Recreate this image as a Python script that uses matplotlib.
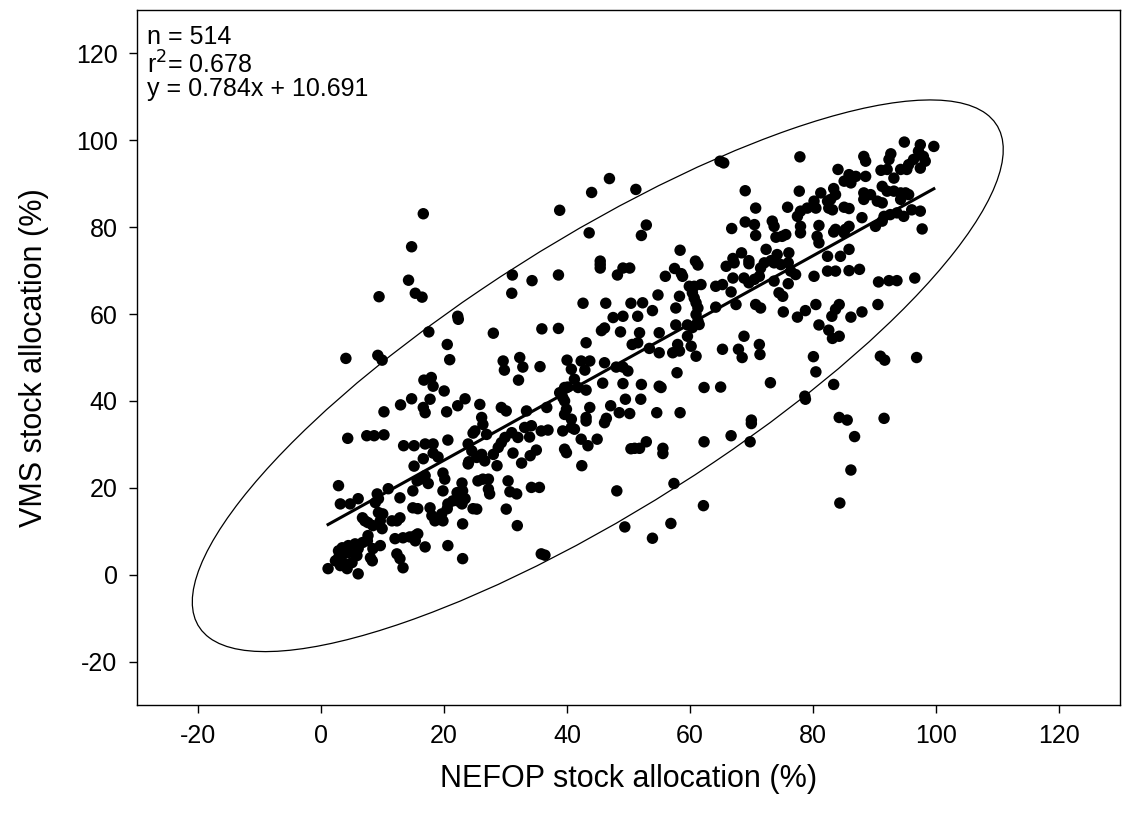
"""
NEFOP vs VMS stock allocation scatter, with fitted line and 95% ellipse.
"""

import numpy as np
import matplotlib
matplotlib.use("Agg")
import matplotlib.pyplot as plt
from matplotlib.patches import Ellipse

plt.rcParams["font.family"] = ["Liberation Sans", "DejaVu Sans"]
plt.rcParams["axes.unicode_minus"] = False

# ── Data (percent) ────────────────────────────────────────────────────────────

nefop = [
    16.6, 14.7,
    38.8, 44.0, 46.9, 51.2, 43.6, 45.4,
    64.9, 65.5, 69.0, 70.7, 75.9, 52.9, 52.1, 66.8, 69.0, 70.5, 70.7, 73.4,
    73.7, 74.0, 75.0, 75.6, 58.4, 60.9, 67.0, 68.4, 69.6, 72.4, 74.2, 76.1, 73.2,
    77.9, 94.9, 97.5, 99.7, 97.2, 98.0, 98.3, 97.5, 96.4, 95.6, 95.3, 94.3,
    92.7, 92.4, 88.3, 88.6, 93.2, 91.1, 92.1, 84.1, 85.9, 87.0, 88.6, 85.1,
    86.2, 77.8, 83.4, 83.7, 82.9, 82.4, 81.3, 80.2, 80.5, 79.1, 78.0, 77.5,
    88.3, 89.4, 88.3, 91.3, 92.1, 93.2, 94.3, 95.1, 95.6, 90.5, 91.3, 94.3,
    82.6, 83.2, 85.1, 85.9, 88.0, 91.6, 92.6, 93.7, 94.8, 96.1, 97.5, 91.3,
    90.2, 97.8, 81.0, 78.0, 78.0, 80.7, 81.0, 83.4, 83.7, 85.9, 85.3, 85.1,
    85.9, 84.5, 82.4,
    80.2, 82.4, 83.7, 85.9, 87.6, 77.2, 90.7, 92.4, 93.7, 96.6, 80.5, 78.8,
    77.5, 84.3, 83.7, 83.1, 86.2, 88.0, 90.6, 81.0, 82.6, 83.2, 84.3, 80.1,
    80.5, 83.4, 78.7, 78.8, 91.0, 91.7, 96.9, 84.3, 85.6, 91.6,
    86.8, 86.2, 84.4,
    52.9, 51.8, 51.0, 55.6, 55.6, 62.3, 66.7, 69.8, 70.0, 57.4, 62.2, 56.9, 53.9,
    48.1, 49.4, 35.8, 36.4, 31.9, 30.1, 25.3, 30.4, 30.7, 31.8, 27.2, 27.4,
    25.5, 26.3, 27.2, 34.2, 35.5, 42.4, 50.4, 31.2, 32.6, 34.0, 35.0, 28.6,
    26.6, 26.1, 25.3, 28.0, 28.8, 29.3, 29.9, 31.0, 32.0, 33.1, 34.2, 33.9,
    35.8, 36.9, 39.3, 40.7, 41.2, 39.6, 39.9, 42.3, 43.4, 44.9, 43.1, 46.1,
    26.3, 26.9, 25.0,
    4.3, 7.4, 8.6, 10.2, 13.4, 15.1, 16.9, 18.2, 20.6, 23.9, 24.7, 18.2, 19.0,
    16.6, 15.1, 19.8, 20.1, 23.9, 15.6, 16.1, 16.9, 2.8, 17.4, 19.8, 22.9,
    23.0, 10.9, 9.1, 12.8, 14.9, 3.1, 4.7, 6.0, 9.3, 8.8, 22.1, 22.2, 21.4,
    20.6, 20.5, 22.9, 23.4, 24.7, 14.9, 15.7, 17.7, 18.0, 19.6, 19.8, 18.5,
    6.7, 7.1, 7.6, 9.3, 10.0, 9.6, 11.5, 12.3, 12.8, 9.9, 8.4, 23.0, 12.0,
    13.3, 14.4, 15.3, 15.7, 15.3, 7.6, 7.5, 6.7, 5.5, 4.4, 3.4, 2.8, 9.6, 8.4,
    16.9, 20.6, 12.3, 12.8, 13.3, 23.0, 8.0, 8.3, 6.0, 1.1, 2.3, 2.8, 3.6,
    4.4, 3.1, 3.9, 4.2, 5.0, 5.8, 6.0, 24.5, 24.0,
    14.2, 9.4, 15.3, 16.4, 22.2, 22.3, 17.5, 20.5, 4.0, 9.2, 9.9, 20.9, 16.7,
    17.9, 18.2, 20.0, 14.7, 17.7, 12.9, 10.2, 16.6, 16.9, 20.4, 22.2, 23.4,
    31.1, 34.3, 38.6, 31.0, 45.4, 45.4, 49.1, 50.2, 48.2, 42.6, 46.3, 50.4,
    47.5, 49.1, 28.0, 35.9, 38.6, 45.6, 46.1, 48.7, 43.1, 50.6, 29.6, 29.8,
    32.3, 32.8, 35.6, 32.1, 40.0, 40.7, 42.3, 43.7, 42.9, 46.1, 48.0, 49.1,
    49.9, 41.2, 39.6, 40.1, 38.8, 39.3, 41.8, 43.1, 45.8, 49.1, 39.6, 39.9,
    39.6, 36.7, 33.4, 29.3, 30.1, 25.8, 43.7, 47.1, 49.5, 48.5, 50.2, 43.1,
    46.4, 40.7, 26.1,
    57.5, 58.6, 58.8, 61.3, 56.0, 65.9, 67.2, 69.6, 71.5, 72.1, 73.7, 74.8,
    76.0, 59.9, 60.7, 61.8, 60.4, 60.7, 64.2, 65.3, 67.0, 66.7, 68.8, 69.6,
    70.5, 71.3, 73.7, 76.0, 76.4, 54.8, 58.3, 57.7, 52.3, 53.9, 51.5, 61.0,
    61.3, 61.0, 61.3, 64.2, 67.5, 70.7, 71.5, 74.5, 75.1, 75.2, 57.7, 59.6,
    60.4, 61.5, 59.6, 51.8, 55.0, 51.5, 53.4, 55.0, 57.2, 58.3, 58.0, 60.2,
    61.0, 65.3, 67.9, 68.5, 68.8, 71.3, 71.4, 57.9, 52.1, 55.0, 55.3, 62.3,
    65.0, 73.1, 52.0, 54.6, 58.4, 70.0,
]

vms = [
    83.1, 75.5,
    83.9, 88.0, 91.2, 88.7, 78.7, 72.2,
    95.2, 94.8, 88.4, 84.4, 84.6, 80.5, 78.1, 79.7, 81.2, 80.6, 78.1, 81.4,
    80.2, 77.7, 77.9, 78.3, 74.7, 72.2, 72.8, 74.1, 72.3, 74.9, 73.7, 74.1, 72.3,
    96.2, 99.6, 99.0, 98.6, 97.5, 96.3, 95.2, 93.6, 95.6, 94.4, 93.3, 93.3,
    96.9, 95.6, 96.3, 95.2, 91.3, 93.1, 93.3, 93.3, 92.1, 91.7, 91.7, 90.6,
    90.2, 88.3, 88.9, 87.5, 86.4, 86.0, 87.9, 86.0, 84.4, 84.4, 83.7, 82.5,
    87.9, 87.5, 86.4, 89.4, 88.3, 88.3, 87.9, 87.9, 87.5, 86.0, 85.6, 86.4,
    84.4, 84.0, 84.6, 84.3, 82.2, 82.5, 82.9, 83.3, 82.5, 84.0, 83.7, 81.4,
    80.2, 79.6, 80.4, 80.2, 78.7, 77.9, 76.4, 78.9, 79.5, 80.2, 79.5, 78.7,
    74.9, 73.3, 73.3,
    68.7, 69.9, 69.9, 70.0, 70.3, 69.1, 67.4, 67.7, 67.7, 68.3, 62.2, 60.8,
    59.3, 62.2, 61.1, 59.5, 59.3, 60.5, 62.2, 57.5, 56.3, 54.4, 54.9, 50.2,
    46.7, 43.8, 41.1, 40.4, 50.3, 49.4, 50.0, 36.2, 35.6, 36.0,
    31.8, 24.1, 16.5,
    30.6, 29.1, 29.1, 29.1, 27.9, 30.6, 32.0, 30.6, 34.8, 21.0, 15.9, 11.8, 8.4,
    19.3, 11.0, 4.8, 4.5, 11.3, 15.1, 15.1, 21.6, 19.1, 18.6, 19.7, 18.6,
    21.6, 22.0, 22.0, 20.1, 20.1, 25.1, 29.0, 28.0, 25.7, 27.4, 28.7, 25.1,
    26.2, 27.7, 27.0, 27.7, 29.3, 30.4, 31.6, 32.7, 31.6, 33.9, 34.3, 31.7,
    33.1, 33.3, 33.1, 33.9, 33.5, 28.9, 28.1, 31.2, 29.7, 31.2, 35.4, 35.0,
    34.6, 32.3, 33.1,
    31.4, 32.0, 32.0, 32.2, 29.7, 29.7, 30.1, 30.1, 31.0, 30.1, 32.6, 28.0, 27.1,
    26.7, 25.0, 23.4, 22.0, 25.5, 21.6, 22.0, 22.8, 20.5, 21.0, 19.3, 21.1,
    19.3, 19.8, 18.6, 17.7, 19.3, 16.3, 16.3, 17.5, 17.5, 16.6, 18.9, 17.0, 17.0,
    16.3, 15.2, 16.3, 17.5, 15.2, 15.4, 15.2, 15.4, 13.6, 14.0, 12.4, 12.4,
    13.1, 12.4, 12.0, 14.3, 14.0, 12.4, 12.4, 12.4, 13.1, 10.6, 11.3, 11.7, 8.3,
    8.5, 8.7, 9.0, 9.4, 7.8, 9.0, 7.8, 7.4, 7.1, 6.7, 6.2, 5.5, 6.7, 6.0,
    6.4, 6.7, 4.8, 3.7, 1.6, 3.7, 3.9, 3.2, 0.2, 1.4, 3.2, 3.9, 4.8,
    5.1, 2.1, 2.5, 1.4, 2.8, 4.4, 6.0, 28.5, 26.0,
    67.8, 64.0, 64.8, 63.9, 59.5, 58.8, 55.9, 53.0, 49.8, 50.5, 49.4, 49.5, 44.8,
    45.4, 43.4, 42.3, 40.5, 40.4, 39.1, 37.5, 38.5, 37.3, 37.5, 38.9, 40.5,
    69.0, 67.7, 69.0, 64.8, 71.4, 70.6, 70.6, 70.6, 69.0, 62.5, 62.5, 62.5,
    59.2, 59.5, 55.6, 56.6, 56.7, 56.2, 56.8, 55.9, 53.4, 53.0, 49.2, 47.1,
    50.0, 47.8, 47.9, 44.8, 49.4, 47.3, 49.2, 49.2, 47.1, 48.8, 47.8, 47.8,
    46.9, 45.0, 43.1, 43.2, 41.9, 40.8, 43.1, 42.5, 44.1, 44.0, 40.0, 38.1,
    36.9, 38.5, 37.7, 38.5, 37.7, 39.2, 38.5, 38.9, 40.4, 37.3, 37.1, 36.2,
    36.0, 35.8, 36.2,
    70.5, 69.3, 68.7, 71.3, 68.7, 71.0, 71.8, 71.6, 70.6, 71.8, 71.8, 71.4,
    71.8, 66.4, 66.4, 66.8, 64.9, 63.7, 66.4, 66.8, 68.3, 65.1, 68.3, 67.2,
    68.0, 68.7, 67.6, 67.0, 69.9, 64.4, 64.1, 61.4, 62.6, 60.8, 59.5, 62.6,
    61.4, 59.9, 58.4, 61.6, 62.2, 62.2, 61.4, 64.9, 64.1, 60.5, 57.5, 57.5,
    56.9, 57.6, 54.9, 55.7, 55.7, 53.4, 52.1, 51.1, 51.1, 51.5, 53.0, 52.6,
    50.3, 51.9, 51.9, 50.0, 54.9, 53.0, 50.7, 46.5, 43.8, 43.4, 43.1, 43.1,
    43.2, 44.2, 40.4, 37.3, 37.3, 35.6,
]

n_obs = 514
r_squared = 0.678
slope = 0.784
intercept = 10.691

# 95% ellipse as drawn in the figure: centre, half-extents along x / y, correlation
ell_centre = (45.0, 45.8)
ell_half_x = 66.0
ell_half_y = 63.5
ell_rho = 0.82

x = np.array(nefop)
y = np.array(vms)

# ── Plot ──────────────────────────────────────────────────────────────────────

fig = plt.figure(figsize=(11.22, 8.22), dpi=100)
ax = fig.add_axes([0.1221, 0.1423, 0.8761, 0.8455])

ax.scatter(x, y, s=68, color="black", edgecolors="none", zorder=3)

# fitted regression line over the data range
xl = np.array([x.min(), x.max()])
ax.plot(xl, slope * xl + intercept, color="black", linewidth=2.2, zorder=4)

# ellipse: build the shape matrix, then take its principal axes
cov = np.array([[ell_half_x**2, ell_rho * ell_half_x * ell_half_y],
                [ell_rho * ell_half_x * ell_half_y, ell_half_y**2]])
vals, vecs = np.linalg.eigh(cov)
angle = np.degrees(np.arctan2(vecs[1, 1], vecs[0, 1]))
ell = Ellipse(ell_centre, width=2 * np.sqrt(vals[1]), height=2 * np.sqrt(vals[0]),
              angle=angle, facecolor="none", edgecolor="black",
              linewidth=0.9, zorder=2)
ax.add_patch(ell)

ax.set_xlim(-30, 130)
ax.set_ylim(-30, 130)
ticks = np.arange(-20, 121, 20)
ax.set_xticks(ticks)
ax.set_yticks(ticks)
ax.tick_params(direction="out", length=6, width=1, labelsize=18, pad=8)
for sp in ax.spines.values():
    sp.set_linewidth(1.0)

ax.set_xlabel("NEFOP stock allocation (%)", fontsize=22, labelpad=11)
ax.set_ylabel("VMS stock allocation (%)", fontsize=22, labelpad=19)

txt = dict(transform=ax.transAxes, fontsize=18, va="top", ha="left")
ax.text(0.010, 0.978, f"n = {n_obs}", **txt)
ax.text(0.010, 0.941, f"r$^2$= {r_squared:.3f}", **txt)
ax.text(0.010, 0.903, f"y = {slope}x + {intercept}", **txt)

plt.savefig("out.png", dpi=100)
